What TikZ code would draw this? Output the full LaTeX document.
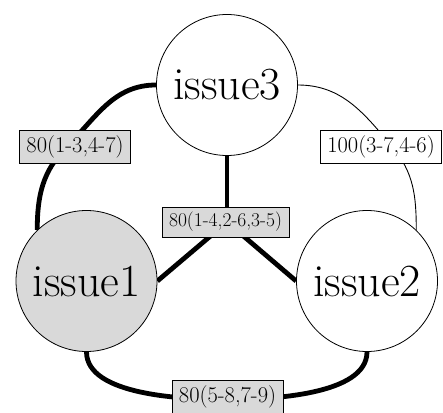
\documentclass[tikz,border=0pt]{standalone}
\usetikzlibrary{positioning}
\pgfdeclarelayer{bg}
\pgfsetlayers{bg,main}
\tikzset{issue/.style={draw, circle, fill=white, minimum size=141pt, inner sep=0pt,
  line width=0.8pt, font=\fontsize{46}{46}\selectfont}}
\tikzset{tag/.style={draw, rectangle, fill=gray!30, inner xsep=7pt, inner ysep=4pt,
  minimum height=33pt, line width=0.8pt, font=\fontsize{22.5}{22.5}\selectfont}}
\tikzset{heavy/.style={draw, line width=4.8pt}}
\tikzset{light/.style={draw, line width=0.9pt}}

\begin{document}
\begin{tikzpicture}[x=1pt, y=1pt]
  \useasboundingbox (0,0) rectangle (443,412);

  % issues
  \node[issue] (i3) at (227,327) {issue3};
  \node[issue, fill=gray!30] (i1) at (86.5,131) {issue1};
  \node[issue] (i2) at (367,131) {issue2};

  % tags
  \node[tag] (l13) at (75,265.5) {80(1-3,4-7)};
  \node[tag, fill=white] (l32) at (381,265.5) {100(3-7,4-6)};
  \node[tag, minimum height=30pt, font=\fontsize{19.5}{19.5}\selectfont] (lc) at (225.5,190) {80(1-4,2-6,3-5)};
  \node[tag] (l12) at (227.5,15.5) {80(5-8,7-9)};

  % points where edges run under the tags
  \coordinate (p13) at ([xshift=-8pt]l13.center);
  \coordinate (p32) at ([xshift=11pt]l32.center);
  \coordinate (hub) at (lc.center -| i3.south);
  \coordinate (p12) at ([yshift=-3pt]l12.center);

  % edges
  \begin{pgfonlayer}{bg}
    \draw[heavy] (i3.west) to[out=180, in=45] (p13) to[out=225, in=90] (i1.134);
    \draw[light] (i3.east) to[out=0, in=130] (p32) to[out=-50, in=90] (i2.46);
    \draw[heavy] (i3.south) -- (hub);
    \draw[heavy] (hub) -- (i1.east);
    \draw[heavy] (hub) -- (i2.west);
    \draw[heavy, looseness=0.75] (i1.south) to[out=-90, in=180] (p12)
                                 to[out=0, in=-90] (i2.south);
  \end{pgfonlayer}
\end{tikzpicture}
\end{document}
